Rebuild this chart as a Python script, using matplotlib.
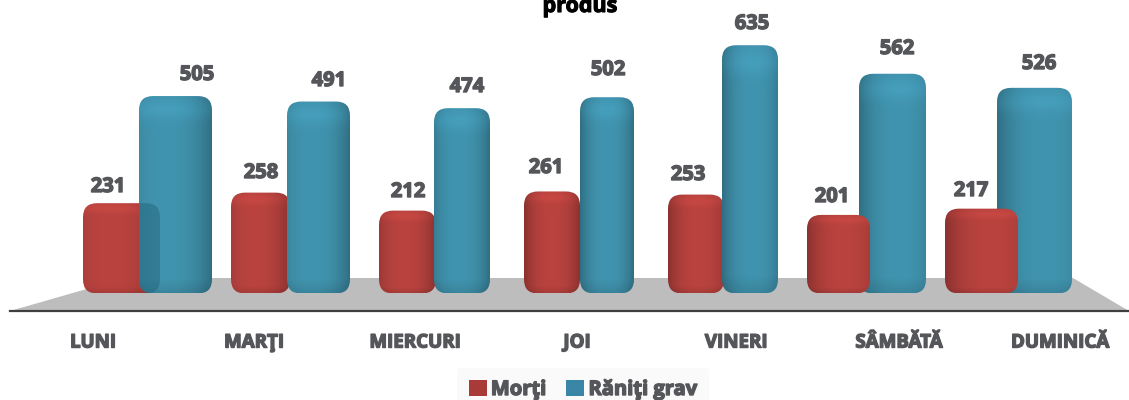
import numpy as np
import matplotlib
matplotlib.use("Agg")
import matplotlib.pyplot as plt
import matplotlib.patheffects as pe
from matplotlib.patches import FancyBboxPatch, Patch, Polygon

categories = ["LUNI", "MARŢI", "MIERCURI", "JOI", "VINERI", "SÂMBĂTĂ", "DUMINICĂ"]
morti = [231, 258, 212, 261, 253, 201, 217]
raniti = [505, 491, 474, 502, 635, 562, 526]

# layout, the fake perspective makes the spacing uneven
red_edges = [(83, 160), (231, 290), (379, 436), (524, 580), (668, 724), (807, 870), (945, 1018)]
blue_edges = [(139, 212), (287, 350), (434, 490), (580, 634), (722, 778), (859, 926), (997, 1072)]
red_label_pos = [(108, 187), (261, 173), (408, 192), (546, 168), (688, 175), (832, 197), (971, 191)]
blue_label_pos = [(197, 75), (329, 81), (467, 87), (608, 70), (752, 24), (897, 49), (1039, 64)]
tick_pos = [93, 254, 415, 577, 736, 899, 1060]
shade_peak = [0.36, 0.4, 0.45, 0.5, 0.55, 0.6, 0.64]

BASE_PX = 293.5
PX_PER_UNIT = 0.391
TEXT = "#55565a"
RED = np.array([178, 64, 60]) / 255
BLUE = np.array([62, 142, 168]) / 255


def py(pixel_y):
    return (BASE_PX - pixel_y) / PX_PER_UNIT


def shaded(color, peak):
    # horizontal cylinder shading plus a light band on top and a dark foot
    u = np.linspace(0, 1, 80)
    v = np.linspace(0, 1, 200)  # 0 = top
    across = 1.04 - 0.26 * (np.abs(u - peak) / max(peak, 1 - peak)) ** 2.5
    down = 1 + 0.07 * np.exp(-((v - 0.07) / 0.05) ** 2) - 0.1 * np.clip((v - 0.93) / 0.07, 0, 1)
    return np.clip(np.outer(down, across)[:, :, None] * color, 0, 1)


def rounded_box(x, w, h, **kw):
    return FancyBboxPatch((x, 0), w, h, boxstyle="round,pad=0,rounding_size=14",
                          mutation_aspect=1 / PX_PER_UNIT, **kw)


def rounded_bars(ax, edges, values, color, zorders):
    lefts = [e[0] for e in edges]
    widths = [e[1] - e[0] for e in edges]
    bars = ax.bar(lefts, values, widths, align="edge", color=color)
    boxes = []
    for i, rect in enumerate(bars):
        rect.set_visible(False)
        x, w, h = rect.get_x(), rect.get_width(), rect.get_height()
        box = rounded_box(x, w, h, fc="none", ec="none", zorder=zorders[i])
        ax.add_patch(box)
        im = ax.imshow(shaded(color, shade_peak[i]), extent=(x, x + w, 0, h), aspect="auto",
                       zorder=zorders[i], interpolation="bilinear")
        im.set_clip_path(box)
        boxes.append(box)
    return bars, boxes


fig = plt.figure(figsize=(11.29, 4), dpi=100)
ax = fig.add_axes([0, 0, 1, 1])

# grey floor under the bars
ax.add_patch(Polygon([(10, py(311)), (125, py(278)), (1073, py(278)), (1129, py(311))],
                     fc="#bebdbd", ec="none", zorder=1))

red_bars, red_boxes = rounded_bars(ax, red_edges, morti, RED, [3, 3, 3, 3, 3, 5, 5])
blue_bars, blue_boxes = rounded_bars(ax, blue_edges, raniti, BLUE, [4] * 7)

# first red bar shows through the blue one as a darker area
r = red_bars[0]
ghost = rounded_box(r.get_x(), r.get_width(), r.get_height(), fc="#1d5a70", ec="none", alpha=0.4, zorder=4.5)
ax.add_patch(ghost)
ghost.set_clip_path(blue_boxes[0])

halo = [pe.withStroke(linewidth=1.0, foreground=TEXT)]
for pos, val in zip(red_label_pos + blue_label_pos, morti + raniti):
    ax.text(pos[0], py(pos[1]), str(val), ha="center", va="center", fontsize=14.5,
            family="Open Sans", weight="bold", color=TEXT, path_effects=halo, zorder=6)

ax.text(580, py(12), "produs", ha="center", va="baseline", fontsize=15.5,
        family="Open Sans", weight="bold", color="black",
        path_effects=[pe.withStroke(linewidth=0.8, foreground="black")])

ax.set_xlim(0, 1129)
ax.set_ylim(py(400), py(0))
for side in ["top", "left", "right"]:
    ax.spines[side].set_visible(False)
# set_position resets the ticks, so it has to come before set_xticks
ax.spines["bottom"].set_position(("data", py(311)))
ax.spines["bottom"].set_bounds(10, 1129)
ax.spines["bottom"].set_color("#3f3f3f")
ax.spines["bottom"].set_linewidth(1.6)
ax.spines["bottom"].set_zorder(2)
ax.set_yticks([])
ax.set_xticks(tick_pos, categories, family="Open Sans", weight="bold", size=13.5,
              color=TEXT, path_effects=halo)
ax.tick_params(axis="x", length=0, pad=15.5)

handles = [Patch(fc="#a83a38", label="Morţi"), Patch(fc="#3a86a6", label="Răniţi grav")]
leg = fig.legend(handles=handles, ncol=2, loc="center", bbox_to_anchor=(583 / 1129, 1 - 390 / 400),
                 prop={"family": "Open Sans", "weight": "bold", "size": 14.5}, labelcolor=TEXT,
                 handlelength=0.9, handleheight=0.85, handletextpad=0.2, columnspacing=1.0,
                 frameon=True, facecolor="#fafafa", edgecolor="none", framealpha=1, borderpad=0.6)
for t in leg.get_texts():
    t.set_path_effects(halo)

fig.savefig("out.png", dpi=100)
